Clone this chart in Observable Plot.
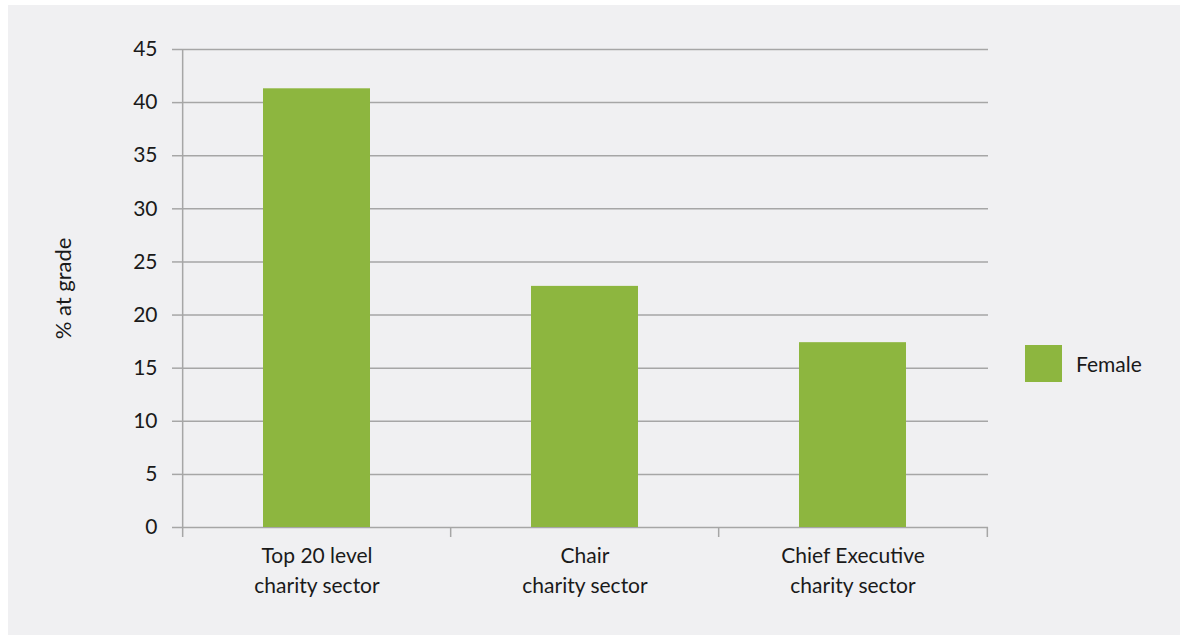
<!DOCTYPE html>
<html>
<head>
<meta charset="utf-8">
<script src="https://cdn.jsdelivr.net/npm/d3@7"></script>
<script src="https://cdn.jsdelivr.net/npm/@observablehq/plot@0.6"></script>
<style>
  html, body { margin: 0; padding: 0; background: #ffffff; }
  #wrap { position: relative; width: 1180px; height: 635px; overflow: hidden; }
  #panel { position: absolute; left: 8px; top: 5px; right: 0; bottom: 0; background: #f0f0f2; }
  #chart { position: absolute; left: 0; top: 0; }
  #legend { position: absolute; left: 1025px; top: 345px; display: flex; align-items: center;
            font-family: Lato, "Open Sans", sans-serif; font-size: 21px; color: #1a1a1a; }
  #legend .sw { width: 37px; height: 37px; margin-right: 14px; }
</style>
</head>
<body>
<div id="wrap">
  <div id="panel"></div>
  <div id="chart"></div>
  <div id="legend"></div>
</div>
<script>
const categories = ["Top 20 level\ncharity sector", "Chair\ncharity sector", "Chief Executive\ncharity sector"];
const female = [41.3, 22.7, 17.4];
const yTicks = [0, 5, 10, 15, 20, 25, 30, 35, 40, 45];
const seriesName = "Female";
const yTitle = "% at grade";
const barColor = "#8db63f";
const gridColor = "#a6a6a6";

const data = categories.map((c, i) => ({category: c, value: female[i]}));

const W = 1180, H = 635, mL = 182, mR = 192, mT = 49, mB = 108;
const step = (W - mL - mR) / categories.length;

const plot = Plot.plot({
  width: W,
  height: H,
  marginLeft: mL,
  marginRight: mR,
  marginTop: mT,
  marginBottom: mB,
  style: {background: "transparent", fontFamily: "Lato, 'Open Sans', sans-serif", fontSize: "21px", color: "#1a1a1a"},
  x: {domain: categories, paddingInner: 0.6, paddingOuter: 0.3},
  y: {domain: [0, 45]},
  marks: [
    Plot.gridY(yTicks, {stroke: gridColor, strokeOpacity: 1, strokeWidth: 1.5}),
    Plot.barY(data, {x: "category", y: "value", fill: barColor}),
    Plot.ruleX([categories[0]], {x: d => d, dx: -step / 2, y1: 45, y2: 0, insetBottom: -10, stroke: gridColor, strokeWidth: 1.5}),
    Plot.ruleX(categories.slice(1), {x: d => d, dx: -step / 2, y1: 0, y2: 0, insetBottom: -10, stroke: gridColor, strokeWidth: 1.5}),
    Plot.ruleX([categories[categories.length - 1]], {x: d => d, dx: step / 2, y1: 0, y2: 0, insetBottom: -10, stroke: gridColor, strokeWidth: 1.5}),
    Plot.axisY(yTicks, {tickSize: 10, tickPadding: 15, stroke: gridColor, strokeWidth: 1.5, label: null}),
    Plot.axisY([], {label: yTitle, labelAnchor: "center", labelArrow: false, labelOffset: 127, fontSize: 22}),
    Plot.axisX({tickSize: 0, tickPadding: 14, lineHeight: 1.43, label: null})
  ]
});
document.getElementById("chart").appendChild(plot);

const legend = document.getElementById("legend");
const sw = document.createElement("div");
sw.className = "sw";
sw.style.background = barColor;
const lab = document.createElement("span");
lab.textContent = seriesName;
legend.appendChild(sw);
legend.appendChild(lab);
</script>
</body>
</html>
